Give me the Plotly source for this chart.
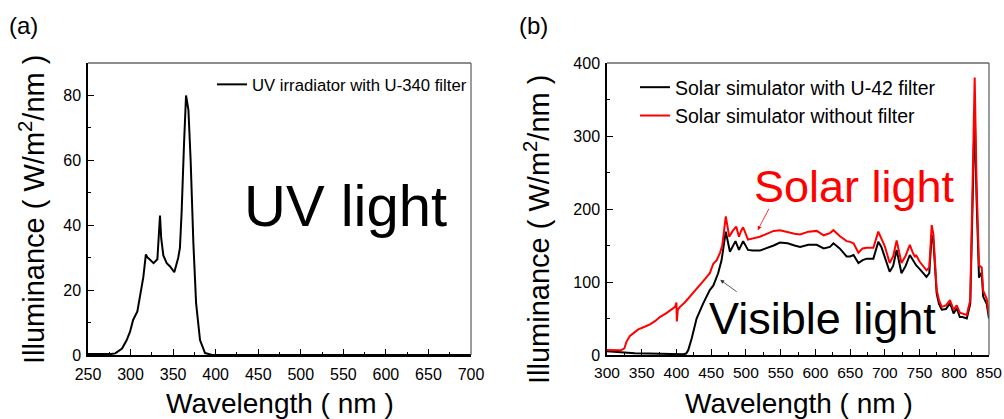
import plotly.graph_objects as go

# ---------------- data: panel (a) ----------------
uv_wl = [250, 260, 270, 277, 282, 290, 295.5, 299.4, 303, 308, 311, 315, 318, 320, 322, 327,
         331.5, 333, 334.6, 336, 338.5, 342.5, 346.4, 351.4, 356, 358, 360, 362.8, 365.2, 368,
         370.6, 373.8, 377, 381.6, 387.5, 395, 400, 500, 600, 700]
uv_val = [0.3, 0.2, 0.3, 0.3, 0.5, 2, 4.6, 7.2, 10.8, 13.4, 18, 24, 31, 30, 29.6, 28.3,
          29.5, 37, 43, 36, 30.7, 28.3, 27.3, 25.5, 30, 33, 44, 65, 80, 75.5,
          60, 34.5, 16, 4.6, 0.6, 0.1, 0, 0, 0, 0]

# ---------------- data: panel (b) ----------------
red_wl = [300, 310, 320, 325, 328, 333, 338, 345, 355, 362, 370, 376, 385, 393, 398, 400, 400.5,
          402, 405, 412, 419.5, 427, 434, 441, 448, 453, 458, 462.7, 466, 471, 476, 481, 486,
          490, 493, 496, 503, 510, 520, 530, 540, 549, 560, 570, 578, 590, 602, 612, 621, 626,
          635, 645, 650, 655, 662, 668, 674, 683.5, 690.6, 695, 700, 707, 712, 717, 724, 730,
          736, 740, 743.5, 745, 750, 760, 764, 767.5, 770, 772, 774.7, 778, 782, 788, 794, 799,
          803.5, 808, 812, 818, 823, 826.6, 829.4, 832, 835.6, 839.5, 841.6, 846.7, 850]
red_val = [7, 6.8, 6.5, 9, 18, 26, 30, 35, 39, 42, 47, 52, 57, 62, 66, 72, 46,
           62, 66, 72, 80, 88, 97, 104, 112, 125, 130, 140, 150, 190, 162, 170, 176,
           162, 170, 175, 158, 160, 162, 166, 170, 171, 168, 166, 165, 169, 170, 164, 167, 171,
           163, 156, 155, 153, 140, 146, 147, 147, 169, 160, 149, 126, 135, 157, 126, 136,
           151, 141, 134, 137, 128, 116, 120, 178, 165, 131, 89, 75, 66, 68, 75, 62,
           68, 58, 57, 55, 75, 240, 380, 240, 123, 120, 88, 77, 55]

blk_wl = [300, 320, 340, 360, 380, 400, 410, 414, 417, 422, 429, 438.7, 448, 453, 460, 465, 468,
          471, 477, 481, 485, 490, 493, 496, 503, 510, 520, 530, 540, 549, 560, 570, 578, 590,
          602, 612, 621, 626, 635, 645, 650, 655, 662, 668, 674, 683.5, 690.6, 695, 700, 707,
          712, 717, 724, 730, 736, 740, 745, 750, 760, 764, 767.5, 770, 772, 774.7, 778, 782,
          788, 794, 799, 803.5, 808, 812, 818, 823, 826.6, 829.4, 832, 835.6, 839.5, 841.6,
          846.7, 850]
blk_val = [5, 3.5, 2.5, 2, 1.5, 1, 1, 2, 6.8, 23, 50, 71, 89, 95, 112, 130, 150,
           169, 141.5, 150, 156, 144, 150, 156, 144, 143, 143, 146, 150, 154, 153, 150, 148, 151,
           151, 146, 148, 153, 146, 135, 135, 137, 126, 130, 132, 132, 155, 148, 134, 114,
           122, 144, 112, 122, 137, 130, 123, 118, 107, 112, 164, 155, 121, 84, 70, 62,
           63, 71, 57, 64, 52, 52, 50, 70, 217, 335, 217, 106, 113, 80,
           70, 50]

W, H = 1004, 419
FONT = "Arial, Liberation Sans, sans-serif"


def px(x):
    return x / W


def py(y):
    return 1 - y / H


fig = go.Figure()
fig.add_trace(go.Scatter(x=uv_wl, y=uv_val, mode="lines", name="UV irradiator with U-340 filter",
                         line=dict(color="black", width=2), xaxis="x", yaxis="y", legend="legend"))
fig.add_trace(go.Scatter(x=blk_wl, y=blk_val, mode="lines", name="Solar simulator with U-42 filter",
                         line=dict(color="black", width=2), xaxis="x2", yaxis="y2", legend="legend2"))
fig.add_trace(go.Scatter(x=red_wl, y=red_val, mode="lines", name="Solar simulator without filter",
                         line=dict(color="#ff0000", width=2), xaxis="x2", yaxis="y2", legend="legend2"))


def axis(size, standoff):
    return dict(showgrid=False, zeroline=False, showline=True, linecolor="black", linewidth=1.5,
                ticks="inside", ticklen=6, tickwidth=1.2, tickcolor="black", automargin=False,
                ticklabelstandoff=standoff,
                tickfont=dict(family=FONT, size=size, color="black"))


fig.update_layout(
    width=W, height=H, margin=dict(l=0, r=0, t=0, b=0, autoexpand=False),
    paper_bgcolor="white", plot_bgcolor="white",
    font=dict(family=FONT, color="black"),
    xaxis=dict(domain=[px(88), px(471)], range=[250, 700], tick0=250, dtick=50,
               minor=dict(ticks="inside", ticklen=3, dtick=25, tickcolor="black"),
               anchor="y", **axis(16, 4)),
    yaxis=dict(domain=[py(355), py(63)], range=[0, 90], tick0=0, dtick=20,
               minor=dict(ticks="inside", ticklen=3, dtick=10, tickcolor="black"),
               anchor="x", **axis(16, 2)),
    xaxis2=dict(domain=[px(607), px(989)], range=[300, 850], tick0=300, dtick=50,
                minor=dict(ticks="inside", ticklen=3, dtick=25, tickcolor="black"),
                anchor="y2", **axis(15.5, 3)),
    yaxis2=dict(domain=[py(355), py(63)], range=[0, 400], tick0=0, dtick=100,
                minor=dict(ticks="inside", ticklen=3, dtick=50, tickcolor="black"),
                anchor="x2", **axis(16, 2)),
    legend=dict(x=px(212), y=py(67), xanchor="left", yanchor="top", bgcolor="rgba(0,0,0,0)",
                font=dict(family=FONT, size=16.7, color="black")),
    legend2=dict(x=px(635), y=py(68), xanchor="left", yanchor="top", bgcolor="rgba(0,0,0,0)",
                 font=dict(family=FONT, size=19.5, color="black"), tracegroupgap=0),
    showlegend=True,
)

# grey top/right frame
for xr, yr in (("x domain", "y domain"), ("x2 domain", "y2 domain")):
    fig.add_shape(type="line", xref=xr, yref=yr, x0=0, x1=1, y0=1, y1=1,
                  line=dict(color="#666666", width=1.3))
    fig.add_shape(type="line", xref=xr, yref=yr, x0=1, x1=1, y0=0, y1=1,
                  line=dict(color="#666666", width=1.3))


def text(x, y, s, size, color="black", angle=0):
    fig.add_annotation(xref="paper", yref="paper", x=px(x), y=py(y), text=s, showarrow=False,
                       xanchor="center", yanchor="middle", textangle=angle,
                       font=dict(family=FONT, size=size, color=color))


text(23, 25, "(a)", 24)
text(533, 25, "(b)", 24)
text(280, 403, "Wavelength ( nm )", 28)
text(799, 403, "Wavelength ( nm )", 28)
text(32, 210, "Illuminance ( W/m<sup>2</sup>/nm )", 29, angle=-90)
text(537, 230, "Illuminance ( W/m<sup>2</sup>/nm )", 29, angle=-90)
text(345, 205, "UV light", 58)
text(854, 186, "Solar light", 45, color="#ff0000")
text(822, 318, "Visible light", 45)

# arrows
fig.add_annotation(xref="x2", yref="y2", x=517, y=171, ax=12, ay=-23, text="", showarrow=True,
                   arrowhead=2, arrowsize=1, arrowwidth=0.8, arrowcolor="#ff0000")
fig.add_annotation(xref="x2", yref="y2", x=463, y=103, ax=18, ay=13, text="", showarrow=True,
                   arrowhead=2, arrowsize=1, arrowwidth=0.8, arrowcolor="#333333")

fig.write_html("out.html")
